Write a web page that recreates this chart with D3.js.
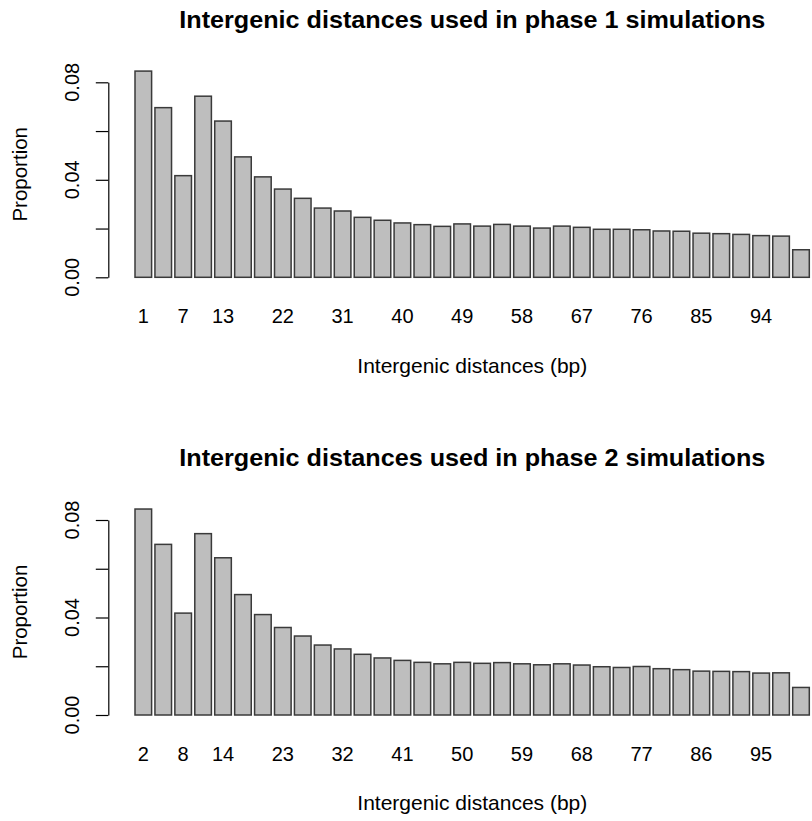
<!DOCTYPE html>
<html>
<head>
<meta charset="utf-8">
<script src="https://cdn.jsdelivr.net/npm/d3@7"></script>
<style>
  html, body { margin: 0; padding: 0; background: #fff; }
  svg { display: block; }
  text { font-family: "Liberation Sans", Arial, Helvetica, sans-serif; fill: #000; }
</style>
</head>
<body>
<svg id="chart" width="812" height="821"></svg>
<script>
// Bin start (bp) of each bar, phase 1 and phase 2 simulations
const phase1Categories = [1, 4, 7, 10, 13, 16, 19, 22, 25, 28, 31, 34, 37, 40, 43, 46, 49,
  52, 55, 58, 61, 64, 67, 70, 73, 76, 79, 82, 85, 88, 91, 94, 97, 100];
const phase2Categories = [2, 5, 8, 11, 14, 17, 20, 23, 26, 29, 32, 35, 38, 41, 44, 47, 50,
  53, 56, 59, 62, 65, 68, 71, 74, 77, 80, 83, 86, 89, 92, 95, 98, 101];

// Proportion of intergenic distances in each bin
const phase1Values = [0.0846, 0.0696, 0.0417, 0.0743, 0.0641, 0.0494, 0.0412, 0.0362, 0.0324,
  0.0284, 0.0272, 0.0246, 0.0234, 0.0223, 0.0216, 0.0209, 0.0219, 0.0210, 0.0217, 0.0210,
  0.0202, 0.0210, 0.0205, 0.0197, 0.0197, 0.0195, 0.0190, 0.0189, 0.0181, 0.0179, 0.0176,
  0.0171, 0.0169, 0.0113];
const phase2Values = [0.0845, 0.0700, 0.0418, 0.0744, 0.0645, 0.0494, 0.0412, 0.0359, 0.0324,
  0.0287, 0.0271, 0.0249, 0.0234, 0.0224, 0.0216, 0.0210, 0.0216, 0.0212, 0.0215, 0.0210,
  0.0206, 0.0210, 0.0205, 0.0198, 0.0195, 0.0199, 0.0190, 0.0186, 0.0180, 0.0179, 0.0178,
  0.0172, 0.0173, 0.0113];

// Bar names that are printed under the bars (the rest are skipped for space)
const phase1TickLabels = [1, 7, 13, 22, 31, 40, 49, 58, 67, 76, 85, 94];
const phase2TickLabels = [2, 8, 14, 23, 32, 41, 50, 59, 68, 77, 86, 95];

// Y axis ticks and the ones that carry a label
const yTicks = [0, 0.02, 0.04, 0.06, 0.08];
const yTickLabels = ["0.00", "0.04", "0.08"];

const titles = [
  "Intergenic distances used in phase 1 simulations",
  "Intergenic distances used in phase 2 simulations"
];
const xLabel = "Intergenic distances (bp)";
const yLabel = "Proportion";

const panels = [
  { title: titles[0], cats: phase1Categories, vals: phase1Values, ticks: phase1TickLabels, dy: 0 },
  { title: titles[1], cats: phase2Categories, vals: phase2Values, ticks: phase2TickLabels, dy: 437.7 }
];

const svg = d3.select("#chart");

// Plot region geometry (shared by both panels)
const plotLeft = 108.3, plotRight = 836.3;
const plotCenter = (plotLeft + plotRight) / 2;
const barsLeft = 135, barsRight = 809.3;
const y0 = 277.3, yTop = 82.3;

const y = d3.scaleLinear().domain([0, 0.08]).range([y0, yTop]);

panels.forEach(p => {
  const g = svg.append("g").attr("transform", `translate(0,${p.dy})`);

  const x = d3.scaleBand()
    .domain(p.cats)
    .range([barsLeft, barsRight])
    .paddingInner(1 / 6)
    .paddingOuter(0);

  // Bars
  g.append("g").selectAll("rect")
    .data(p.cats.map((c, i) => ({ c, v: p.vals[i] })))
    .join("rect")
    .attr("x", d => x(d.c))
    .attr("width", x.bandwidth())
    .attr("y", d => y(d.v))
    .attr("height", d => y(0) - y(d.v))
    .attr("fill", "#bebebe")
    .attr("stroke", "#3a3a3a")
    .attr("stroke-width", 1.5);

  // Y axis
  const yAxis = g.append("g")
    .attr("transform", `translate(${plotLeft},0)`)
    .call(d3.axisLeft(y).tickValues(yTicks).tickSize(12.5).tickSizeOuter(0).tickFormat(""));
  yAxis.select(".domain").attr("stroke", "#000").attr("stroke-width", 1.2);
  yAxis.selectAll(".tick line").attr("stroke", "#000").attr("stroke-width", 1.2);

  // Rotated y tick labels
  g.append("g").selectAll("text")
    .data(yTickLabels)
    .join("text")
    .attr("transform", d => `translate(79.3,${y(+d)}) rotate(-90)`)
    .attr("text-anchor", "middle")
    .attr("font-size", 20)
    .text(d => d);

  // Bar names under the bars
  g.append("g").selectAll("text")
    .data(p.ticks)
    .join("text")
    .attr("x", d => x(d) + x.bandwidth() / 2)
    .attr("y", 323.3)
    .attr("text-anchor", "middle")
    .attr("font-size", 20)
    .text(d => d);

  // Title
  g.append("text")
    .attr("x", plotCenter)
    .attr("y", 28)
    .attr("text-anchor", "middle")
    .attr("font-size", 24)
    .attr("font-weight", "bold")
    .attr("textLength", 586)
    .attr("lengthAdjust", "spacingAndGlyphs")
    .text(p.title);

  // Axis titles
  g.append("text")
    .attr("x", plotCenter)
    .attr("y", 372.5)
    .attr("text-anchor", "middle")
    .attr("font-size", 21)
    .text(xLabel);

  g.append("text")
    .attr("transform", `translate(27,174.3) rotate(-90)`)
    .attr("text-anchor", "middle")
    .attr("font-size", 20.5)
    .text(yLabel);
});
</script>
</body>
</html>
